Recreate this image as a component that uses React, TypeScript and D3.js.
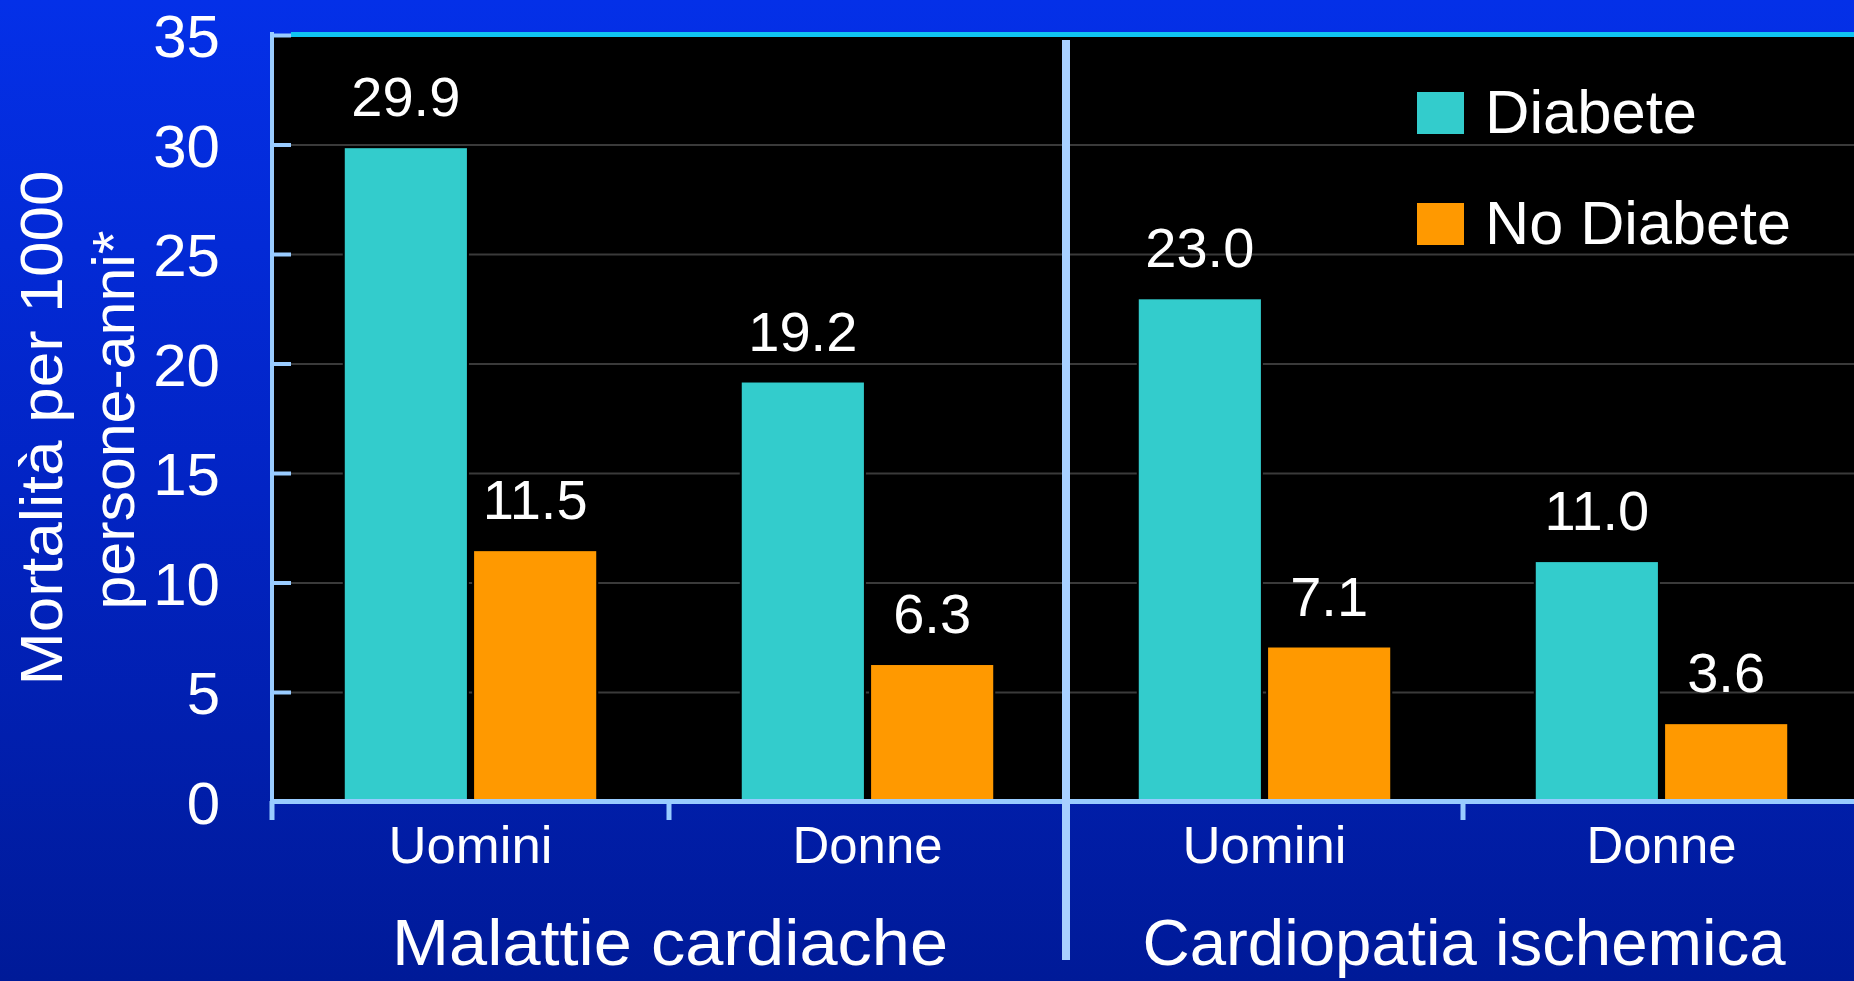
import React from "react";
import * as d3 from "d3";

// chart values
const groups = ["Malattie cardiache", "Cardiopatia ischemica"];
const sexes = ["Uomini", "Donne"];
const seriesNames = ["Diabete", "No Diabete"];
const diabete = [29.9, 19.2, 23.0, 11.0];
const noDiabete = [11.5, 6.3, 7.1, 3.6];
const yTicks = [0, 5, 10, 15, 20, 25, 30, 35];
const yTitle = ["Mortalità per 1000", "persone-anni*"];

const W = 1854;
const H = 981;
const left = 272;
const right = 1860;
const top = 35.5;
const bottom = 802;

const colors = ["#33CCCC", "#FF9900"];
const axisBlue = "#99CCFF";
const labelFont = "'Comic Sans MS', 'Liberation Sans', Arial, sans-serif";
const numFont = "'Liberation Sans', Arial, sans-serif";

// rough text widths so the sans fallback fills the same space as the original
const textWidths: Record<string, number> = {
  Uomini: 164,
  Donne: 150,
  "Malattie cardiache": 556,
  "Cardiopatia ischemica": 643,
  Diabete: 212,
  "No Diabete": 306,
  "Mortalità per 1000": 515,
  "persone-anni*": 379,
};

const App = () => {
  const cats = groups.flatMap((g) => sexes.map((s) => g + "|" + s));
  const rows = cats.map((c, i) => ({
    key: c,
    group: c.split("|")[0],
    sex: c.split("|")[1],
    values: [diabete[i], noDiabete[i]],
  }));

  const y = d3.scaleLinear().domain([0, 35]).range([bottom, top]);
  const x0 = d3.scaleBand().domain(cats).range([left, right]);
  const xg = d3.scaleBand().domain(groups).range([left, right]);
  const x1 = d3
    .scaleBand()
    .domain(seriesNames)
    .range([0, x0.bandwidth()])
    .paddingInner(0.04)
    .paddingOuter(0.555);

  const divider = xg(groups[1]) as number;

  return (
    <svg
      width={W}
      height={H}
      style={{ position: "absolute", left: 0, top: 0, display: "block" }}
    >
      <defs>
        <linearGradient id="bg" x1="0" y1="0" x2="0" y2="1">
          <stop offset="0%" stopColor="#0430E8" />
          <stop offset="50%" stopColor="#0224C4" />
          <stop offset="100%" stopColor="#001A98" />
        </linearGradient>
      </defs>
      <rect x={0} y={0} width={W} height={H} fill="url(#bg)" />

      {/* plot area */}
      <rect x={left} y={top} width={W - left} height={bottom - top} fill="#000" />

      {/* gridlines */}
      {yTicks
        .filter((t) => t > 0 && t < 35)
        .map((t) => (
          <line
            key={"g" + t}
            x1={left + 19}
            x2={W}
            y1={y(t)}
            y2={y(t)}
            stroke="#3a3a3a"
            strokeWidth={2}
          />
        ))}

      {/* top border */}
      <line x1={left + 19} x2={W} y1={34.5} y2={34.5} stroke="#10C4F2" strokeWidth={5} />

      {/* bars */}
      {rows.map((r) =>
        r.values.map((v, j) => {
          const bx = (x0(r.key) as number) + (x1(seriesNames[j]) as number);
          return (
            <g key={r.key + j}>
              <rect
                x={bx}
                y={y(v)}
                width={x1.bandwidth()}
                height={bottom - y(v)}
                fill={colors[j]}
                stroke="#000"
                strokeWidth={2}
              />
              <text
                x={bx + x1.bandwidth() / 2}
                y={y(v) - 31}
                textAnchor="middle"
                fill="#fff"
                fontFamily={numFont}
                fontSize={56}
              >
                {v.toFixed(1)}
              </text>
            </g>
          );
        })
      )}

      {/* y axis */}
      <line x1={left} x2={left} y1={32} y2={820} stroke={axisBlue} strokeWidth={4} />
      {yTicks.map((t) => (
        <g key={"t" + t}>
          <line x1={left} x2={left + 19} y1={y(t)} y2={y(t)} stroke={axisBlue} strokeWidth={4} />
          <text
            x={220}
            y={y(t)}
            dy="0.36em"
            textAnchor="end"
            fill="#fff"
            fontFamily={numFont}
            fontSize={60}
          >
            {t}
          </text>
        </g>
      ))}

      {/* x axis */}
      <line x1={left - 2} x2={W} y1={801.5} y2={801.5} stroke={axisBlue} strokeWidth={5} />
      {cats.map((c) => (
        <line
          key={"xt" + c}
          x1={x0(c) as number}
          x2={x0(c) as number}
          y1={801}
          y2={820}
          stroke={axisBlue}
          strokeWidth={5}
        />
      ))}

      {/* group divider */}
      <line x1={divider} x2={divider} y1={40} y2={960} stroke="#A8D0FF" strokeWidth={8} />

      {/* category labels */}
      {rows.map((r) => (
        <text
          key={"cl" + r.key}
          x={(x0(r.key) as number) + x0.bandwidth() / 2}
          y={863}
          textAnchor="middle"
          fill="#fff"
          fontFamily={labelFont}
          fontSize={52}
          textLength={textWidths[r.sex]}
          lengthAdjust="spacingAndGlyphs"
        >
          {r.sex}
        </text>
      ))}

      {/* group labels */}
      {groups.map((g) => (
        <text
          key={"gl" + g}
          x={(xg(g) as number) + xg.bandwidth() / 2 + 1}
          y={965}
          textAnchor="middle"
          fill="#fff"
          fontFamily={labelFont}
          fontSize={64}
          textLength={textWidths[g]}
          lengthAdjust="spacingAndGlyphs"
        >
          {g}
        </text>
      ))}

      {/* y title */}
      <g transform="translate(62,428) rotate(-90)">
        <text
          x={0}
          y={0}
          textAnchor="middle"
          fill="#fff"
          fontFamily={labelFont}
          fontSize={60}
          textLength={textWidths[yTitle[0]]}
          lengthAdjust="spacingAndGlyphs"
        >
          {yTitle[0]}
        </text>
      </g>
      <g transform="translate(134,420) rotate(-90)">
        <text
          x={0}
          y={0}
          textAnchor="middle"
          fill="#fff"
          fontFamily={labelFont}
          fontSize={60}
          textLength={textWidths[yTitle[1]]}
          lengthAdjust="spacingAndGlyphs"
        >
          {yTitle[1]}
        </text>
      </g>

      {/* legend */}
      {seriesNames.map((s, i) => (
        <g key={"lg" + s} transform={`translate(1417,${92 + i * 111})`}>
          <rect x={0} y={0} width={47} height={42} fill={colors[i]} />
          <text
            x={68}
            y={41}
            fill="#fff"
            fontFamily={labelFont}
            fontSize={62}
            textLength={textWidths[s]}
            lengthAdjust="spacingAndGlyphs"
          >
            {s}
          </text>
        </g>
      ))}
    </svg>
  );
};

export default App;
